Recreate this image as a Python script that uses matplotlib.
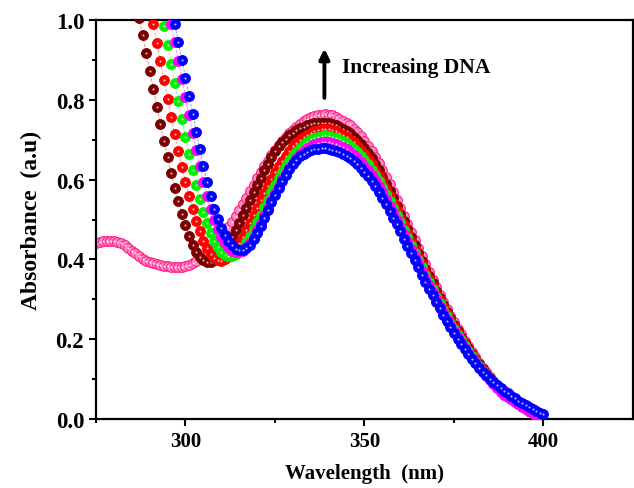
import numpy as np
import matplotlib
matplotlib.use('Agg')
import matplotlib.pyplot as plt

# absorbance, 1 nm steps
pink_start = 275
pink = [0.440, 0.443, 0.446, 0.447, 0.447, 0.446, 0.444, 0.440, 0.435, 0.429,
        0.422, 0.415, 0.408, 0.402, 0.397, 0.393, 0.390, 0.388, 0.386, 0.384,
        0.383, 0.382, 0.382, 0.382, 0.382, 0.383, 0.386, 0.391, 0.397, 0.403,
        0.410, 0.417, 0.425, 0.434, 0.444, 0.455, 0.467, 0.480, 0.494, 0.508,
        0.523, 0.539, 0.555, 0.571, 0.587, 0.603, 0.618, 0.633, 0.647, 0.661,
        0.674, 0.686, 0.697, 0.707, 0.716, 0.725, 0.733, 0.740, 0.746, 0.751,
        0.756, 0.759, 0.762, 0.763,
        0.764, 0.763, 0.761, 0.757, 0.753, 0.748, 0.743, 0.736, 0.728, 0.719,
        0.709, 0.697, 0.685, 0.672, 0.657, 0.641, 0.624, 0.606, 0.588, 0.569,
        0.550, 0.530, 0.509, 0.489, 0.469, 0.448, 0.428, 0.408, 0.388, 0.368,
        0.349, 0.330, 0.312, 0.294, 0.276, 0.259, 0.242, 0.226, 0.212, 0.196,
        0.183, 0.168, 0.155, 0.141, 0.129, 0.118, 0.106, 0.096, 0.086, 0.077,
        0.069, 0.061, 0.054, 0.047, 0.040, 0.034, 0.028, 0.022, 0.015, 0.009]

maroon_start = 287
maroon = [1.005, 0.962, 0.918, 0.873, 0.828, 0.783, 0.739, 0.697, 0.656, 0.617,
          0.580, 0.546, 0.514, 0.485, 0.459, 0.437, 0.419, 0.406, 0.398, 0.394,
          0.394, 0.398, 0.405, 0.415, 0.427, 0.441, 0.457, 0.474, 0.492, 0.511,
          0.530, 0.549, 0.568, 0.587, 0.605, 0.623, 0.640, 0.656, 0.671, 0.683,
          0.694, 0.703, 0.711, 0.718, 0.724, 0.729, 0.733, 0.736, 0.739, 0.741,
          0.742, 0.743,
          0.743, 0.742, 0.740, 0.736, 0.732, 0.728, 0.722, 0.716, 0.708, 0.699,
          0.689, 0.678, 0.666, 0.653, 0.639, 0.624, 0.607, 0.590, 0.572, 0.553,
          0.535, 0.515, 0.495, 0.476, 0.456, 0.436, 0.416, 0.397, 0.377, 0.358,
          0.340, 0.321, 0.304, 0.286, 0.268, 0.252, 0.236, 0.220, 0.206, 0.191,
          0.178, 0.163, 0.150, 0.137, 0.125, 0.114, 0.103, 0.093, 0.083, 0.074,
          0.067, 0.059, 0.052, 0.045, 0.039, 0.033, 0.027, 0.021, 0.014, 0.008]

red_start = 291
red = [0.990, 0.943, 0.896, 0.849, 0.803, 0.758, 0.714, 0.672, 0.632, 0.594,
       0.559, 0.527, 0.497, 0.470, 0.447, 0.428, 0.413, 0.403, 0.398,
       0.397, 0.400, 0.406, 0.415, 0.427, 0.441, 0.457, 0.474, 0.492, 0.511,
       0.530, 0.549, 0.567, 0.585, 0.602, 0.618, 0.633, 0.647, 0.660, 0.672,
       0.683, 0.692, 0.700, 0.707, 0.713, 0.718, 0.722, 0.725, 0.726,
       0.727, 0.726, 0.724, 0.721, 0.716, 0.712, 0.707, 0.700, 0.693, 0.684,
       0.674, 0.664, 0.652, 0.639, 0.625, 0.610, 0.594, 0.577, 0.560, 0.542,
       0.523, 0.504, 0.485, 0.465, 0.446, 0.427, 0.407, 0.388, 0.369, 0.351,
       0.332, 0.314, 0.297, 0.280, 0.263, 0.247, 0.231, 0.216, 0.202, 0.187,
       0.174, 0.160, 0.147, 0.134, 0.123, 0.112, 0.101, 0.091, 0.081, 0.072,
       0.065, 0.058, 0.051, 0.045, 0.039, 0.033, 0.027, 0.021, 0.014, 0.008]

green_start = 294
green = [0.985, 0.937, 0.889, 0.842, 0.796, 0.751, 0.707, 0.665, 0.625, 0.587,
         0.552, 0.520, 0.492, 0.467, 0.446, 0.430, 0.418, 0.411, 0.408,
         0.409, 0.413, 0.420, 0.430, 0.443, 0.458, 0.475, 0.493, 0.512, 0.531,
         0.550, 0.568, 0.586, 0.603, 0.619, 0.634, 0.647, 0.659, 0.670, 0.680,
         0.688, 0.695, 0.701, 0.705, 0.708, 0.710,
         0.711, 0.710, 0.708, 0.705, 0.701, 0.696, 0.691, 0.685, 0.677, 0.669,
         0.660, 0.649, 0.638, 0.625, 0.611, 0.597, 0.581, 0.564, 0.547, 0.530,
         0.512, 0.493, 0.474, 0.455, 0.436, 0.417, 0.399, 0.380, 0.361, 0.343,
         0.325, 0.307, 0.290, 0.274, 0.257, 0.241, 0.225, 0.211, 0.197, 0.183,
         0.170, 0.157, 0.145, 0.133, 0.121, 0.110, 0.099, 0.089, 0.079, 0.070,
         0.063, 0.056, 0.050, 0.044, 0.038, 0.032, 0.026, 0.020, 0.014, 0.008]

magenta_start = 296
magenta = [0.990, 0.944, 0.898, 0.852, 0.807, 0.762, 0.718, 0.675, 0.633, 0.594,
           0.558, 0.526, 0.498, 0.475, 0.456, 0.441, 0.430, 0.422, 0.418,
           0.418, 0.422, 0.430, 0.442, 0.457, 0.474, 0.492, 0.511, 0.530, 0.549,
           0.567, 0.585, 0.601, 0.616, 0.630, 0.642, 0.653, 0.663, 0.671, 0.678,
           0.684, 0.689, 0.692, 0.694,
           0.695, 0.694, 0.692, 0.689, 0.685, 0.681, 0.676, 0.669, 0.662, 0.654,
           0.645, 0.635, 0.623, 0.611, 0.598, 0.583, 0.568, 0.552, 0.535, 0.518,
           0.500, 0.482, 0.463, 0.445, 0.426, 0.408, 0.390, 0.371, 0.353, 0.335,
           0.318, 0.300, 0.284, 0.268, 0.251, 0.236, 0.220, 0.206, 0.193, 0.179,
           0.166, 0.154, 0.142, 0.131, 0.119, 0.108, 0.097, 0.087, 0.077, 0.068,
           0.061, 0.055, 0.049, 0.043, 0.037, 0.031, 0.026, 0.020, 0.014, 0.008]

blue_start = 296
blue = [1.040, 0.990, 0.945, 0.900, 0.855, 0.810, 0.765, 0.720, 0.676, 0.634,
        0.594, 0.558, 0.527, 0.501, 0.479, 0.461, 0.446, 0.435, 0.427,
        0.423, 0.423, 0.428, 0.437, 0.450, 0.466, 0.484, 0.503, 0.523, 0.543,
        0.562, 0.580, 0.597, 0.612, 0.626, 0.638, 0.649, 0.658, 0.665, 0.670,
        0.674, 0.676, 0.677, 0.678,
        0.678, 0.677, 0.675, 0.672, 0.668, 0.664, 0.659, 0.653, 0.646, 0.638,
        0.629, 0.619, 0.608, 0.596, 0.583, 0.569, 0.554, 0.538, 0.522, 0.505,
        0.488, 0.470, 0.452, 0.434, 0.416, 0.398, 0.380, 0.362, 0.344, 0.327,
        0.310, 0.293, 0.277, 0.261, 0.245, 0.230, 0.215, 0.201, 0.188, 0.175,
        0.163, 0.151, 0.140, 0.129, 0.119, 0.110, 0.101, 0.093, 0.085, 0.078,
        0.071, 0.064, 0.058, 0.052, 0.046, 0.041, 0.036, 0.031, 0.025, 0.020,
        0.016, 0.012]

assert len(pink) == 398 - pink_start + 1
assert len(maroon) == 398 - maroon_start + 1
assert len(red) == 398 - red_start + 1
assert len(green) == 398 - green_start + 1
assert len(magenta) == 398 - magenta_start + 1
assert len(blue) == 400 - blue_start + 1

series = [
    (pink_start, pink, '#ff1a8c', '#ff8cc0'),
    (maroon_start, maroon, '#7a0000', '#7a0000'),
    (red_start, red, '#ff0000', '#ff0000'),
    (green_start, green, '#00f000', '#00f000'),
    (magenta_start, magenta, '#ff00ff', '#ff00ff'),
    (blue_start, blue, '#0000ff', '#0000ff'),
]

plt.rcParams['font.family'] = ['Liberation Serif', 'DejaVu Serif']
plt.rcParams['font.weight'] = 'bold'

fig = plt.figure(figsize=(6.34, 4.89), dpi=100)
ax = fig.add_axes([96 / 634, 1 - 420 / 489, 537 / 634, 399 / 489])

z = 2
for start, vals, col, face in series:
    wl = np.arange(start, start + len(vals))
    ax.plot(wl, vals, ls='--', lw=0.6, color=col, alpha=0.45, zorder=z)
    ax.plot(wl, vals, ls='none', marker='o', ms=7, mfc=face, mec=col,
            mew=0.8, zorder=z + 0.1)
    ax.plot(wl, vals, ls='none', marker='o', ms=1.5, mfc='white', mec='none',
            alpha=0.75, zorder=z + 0.2)
    z += 1

ax.set_xlim(275, 425)
ax.set_ylim(0, 1.0)
ax.set_xticks([300, 350, 400])
ax.set_xticks([275, 325, 375], minor=True)
ax.set_yticks([0.0, 0.2, 0.4, 0.6, 0.8, 1.0])
ax.set_yticks([0.1, 0.3, 0.5, 0.7, 0.9], minor=True)
ax.set_yticklabels(['0.0', '0.2', '0.4', '0.6', '0.8', '1.0'])
ax.tick_params(which='major', direction='out', length=5, width=1.5,
               labelsize=15, top=False, right=False)
ax.tick_params(axis='y', which='major', labelsize=16.5)
ax.tick_params(which='minor', direction='out', length=3, width=1.5,
               top=False, right=False)
for sp in ax.spines.values():
    sp.set_linewidth(1.6)

ax.set_xlabel('Wavelength  (nm)', fontsize=15, fontweight='bold', labelpad=9)
ax.set_ylabel('Absorbance  (a.u)', fontsize=17, fontweight='bold', labelpad=10)

ax.annotate('', xy=(338.8, 0.935), xytext=(338.8, 0.798),
            arrowprops=dict(arrowstyle='-|>', lw=2.8, color='black',
                            mutation_scale=15))
ax.text(343.8, 0.882, 'Increasing DNA', fontsize=15.5, fontweight='bold',
        va='center', ha='left')

fig.savefig('out.png', dpi=100)
